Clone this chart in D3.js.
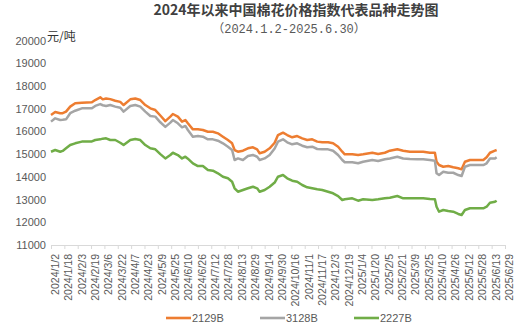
<!DOCTYPE html>
<html><head><meta charset="utf-8">
<script src="https://cdn.jsdelivr.net/npm/d3@7"></script>
<style>body{margin:0;background:#fff;} svg{display:block;}</style>
</head><body>
<svg id="c" width="517" height="332"></svg>
<script>
const dates = ["2024-01-02","2024-01-07","2024-01-13","2024-01-16","2024-01-20","2024-01-25","2024-01-31","2024-02-08","2024-02-20","2024-02-24","2024-03-01","2024-03-04","2024-03-08","2024-03-13","2024-03-19","2024-03-25","2024-03-29","2024-04-06","2024-04-12","2024-04-18","2024-04-24","2024-04-30","2024-05-06","2024-05-12","2024-05-18","2024-05-24","2024-05-27","2024-06-02","2024-06-07","2024-06-11","2024-06-14","2024-06-20","2024-06-26","2024-07-02","2024-07-08","2024-07-14","2024-07-20","2024-07-26","2024-08-01","2024-08-06","2024-08-09","2024-08-13","2024-08-19","2024-08-25","2024-08-31","2024-09-05","2024-09-08","2024-09-14","2024-09-20","2024-09-26","2024-09-30","2024-10-06","2024-10-11","2024-10-17","2024-10-23","2024-10-29","2024-11-04","2024-11-10","2024-11-16","2024-11-22","2024-11-29","2024-12-05","2024-12-11","2024-12-16","2024-12-19","2024-12-28","2025-01-04","2025-01-10","2025-01-21","2025-01-28","2025-02-05","2025-02-11","2025-02-20","2025-02-27","2025-03-07","2025-03-16","2025-03-23","2025-03-31","2025-04-06","2025-04-08","2025-04-11","2025-04-16","2025-04-22","2025-04-28","2025-05-04","2025-05-08","2025-05-12","2025-05-18","2025-05-26","2025-06-03","2025-06-07","2025-06-11","2025-06-17","2025-06-19"];
const s2129B = [16722,16850,16800,16800,16870,17090,17235,17260,17280,17380,17500,17410,17450,17420,17350,17300,17160,17410,17450,17380,17160,17015,16940,16700,16450,16650,16765,16650,16430,16500,16355,16090,16090,16060,15985,15985,15915,15765,15620,15475,15180,15105,15150,15255,15300,15210,15035,15105,15255,15500,15840,15945,15840,15740,15795,15695,15620,15650,15550,15520,15520,15475,15325,15105,14990,14990,14960,14990,15060,15005,15060,15150,15210,15150,15105,15105,15105,15060,15060,14665,14520,14445,14475,14420,14375,14330,14665,14740,14740,14740,14860,15060,15150,15180];
const s3128B = [16430,16575,16500,16510,16530,16800,16910,17015,17015,17120,17200,17150,17120,17160,17090,17040,16870,17120,17160,17090,16870,16680,16650,16400,16200,16385,16500,16355,16180,16240,16060,15765,15795,15765,15650,15650,15590,15475,15325,15180,14740,14810,14740,14915,14960,14885,14740,14810,14960,15250,15550,15650,15520,15430,15475,15370,15300,15325,15225,15210,15210,15150,14960,14740,14640,14640,14595,14665,14740,14700,14770,14810,14885,14810,14785,14770,14770,14740,14710,14155,14080,14225,14180,14180,14080,14035,14445,14520,14520,14520,14595,14810,14810,14860];
const s2227B = [15105,15180,15105,15140,15255,15400,15475,15550,15560,15620,15650,15680,15695,15620,15620,15500,15400,15620,15665,15620,15400,15255,15210,15000,14810,14960,15060,14960,14810,14885,14800,14595,14475,14475,14300,14270,14155,14005,13935,13785,13495,13345,13420,13495,13565,13495,13345,13420,13565,13750,14005,14080,13935,13830,13785,13640,13540,13495,13450,13420,13345,13275,13155,12980,13010,13055,12950,13010,12980,13010,13055,13080,13155,13055,13055,13055,13055,13025,13010,12685,12465,12540,12495,12465,12365,12320,12540,12615,12615,12615,12685,12860,12905,12950];
const seriesNames = ["2129B","3128B","2227B"];
const seriesColors = ["#ED7D31","#A5A5A5","#70AD47"];
const xTickLabels = ["2024/1/2","2024/1/18","2024/2/3","2024/2/19","2024/3/6","2024/3/22","2024/4/7","2024/4/23","2024/5/9","2024/5/25","2024/6/10","2024/6/26","2024/7/12","2024/7/28","2024/8/13","2024/8/29","2024/9/14","2024/9/30","2024/10/16","2024/11/1","2024/11/17","2024/12/3","2024/12/19","2025/1/4","2025/1/20","2025/2/5","2025/2/21","2025/3/9","2025/3/25","2025/4/10","2025/4/26","2025/5/12","2025/5/28","2025/6/13","2025/6/29"];
const yTicks = [11000,12000,13000,14000,15000,16000,17000,18000,19000,20000];

const svg = d3.select("#c");
const parse = d3.utcParse("%Y-%m-%d");
const parseSlash = d3.utcParse("%Y/%m/%d");
const tickDates = xTickLabels.map(s => parseSlash(s));
const labelOf = new Map(tickDates.map((d,i)=>[+d, xTickLabels[i]]));

const x = d3.scaleUtc().domain([tickDates[0], tickDates[tickDates.length-1]]).range([51, 505]);
const y = d3.scaleLinear().domain([11000, 20000]).range([245, 40.5]);

// title
svg.append("text").attr("x", 296).attr("y", 15).attr("text-anchor","middle")
  .attr("font-family","'Noto Sans CJK SC', sans-serif").attr("font-size","14px").attr("font-weight","bold")
  .attr("fill","#404040").text("2024年以来中国棉花价格指数代表品种走势图");
svg.append("text").attr("x", 289).attr("y", 33).attr("text-anchor","middle")
  .attr("font-family","'Liberation Mono', 'Noto Sans CJK SC', monospace").attr("font-size","12px")
  .attr("fill","#595959").text("（2024.1.2-2025.6.30）");

// y axis
const yAxis = svg.append("g").attr("transform","translate(46,0)")
  .call(d3.axisLeft(y).tickValues(yTicks).tickSize(0).tickPadding(0).tickFormat(d3.format("d")));
yAxis.select(".domain").remove();
yAxis.selectAll("text").attr("font-family","'Liberation Sans', Arial, sans-serif").attr("font-size","11px").attr("fill","#595959");

// unit
svg.append("text").attr("x", 47).attr("y", 41).attr("font-family","'Noto Sans CJK SC', sans-serif")
  .attr("font-size","12px").attr("fill","#333").text("元/吨");

// x axis
const xAxis = svg.append("g").attr("transform","translate(0,245)")
  .call(d3.axisBottom(x).tickValues(tickDates).tickSize(4).tickFormat(d => labelOf.get(+d)));
xAxis.select(".domain").attr("stroke","#D9D9D9").attr("d","M51,0.5H505");
xAxis.selectAll(".tick line").attr("stroke","#D9D9D9");
xAxis.selectAll(".tick text")
  .attr("font-family","'Liberation Sans', Arial, sans-serif").attr("font-size","10.5px").attr("fill","#595959")
  .attr("text-anchor","end").attr("transform","rotate(-90)").attr("x",-9).attr("y",4).attr("dy","0.32em").attr("dx",0);

// lines
const allSeries = [s2129B, s3128B, s2227B];
const line = d3.line().x(d => x(d.date)).y(d => y(d.v));
allSeries.forEach((s, i) => {
  const pts = dates.map((d, j) => ({date: parse(d), v: s[j]}));
  svg.append("path").datum(pts).attr("fill","none").attr("stroke", seriesColors[i])
    .attr("stroke-width", 2.5).attr("stroke-linejoin","round").attr("d", line);
});

// legend
const legX = [166, 260, 354];
seriesNames.forEach((n, i) => {
  svg.append("line").attr("x1", legX[i]).attr("x2", legX[i]+25).attr("y1", 318).attr("y2", 318)
    .attr("stroke", seriesColors[i]).attr("stroke-width", 2.6);
  svg.append("text").attr("x", legX[i]+26).attr("y", 322).attr("font-family","'Liberation Sans', Arial, sans-serif")
    .attr("font-size","11px").attr("fill","#595959").text(n);
});
</script>
</body></html>
